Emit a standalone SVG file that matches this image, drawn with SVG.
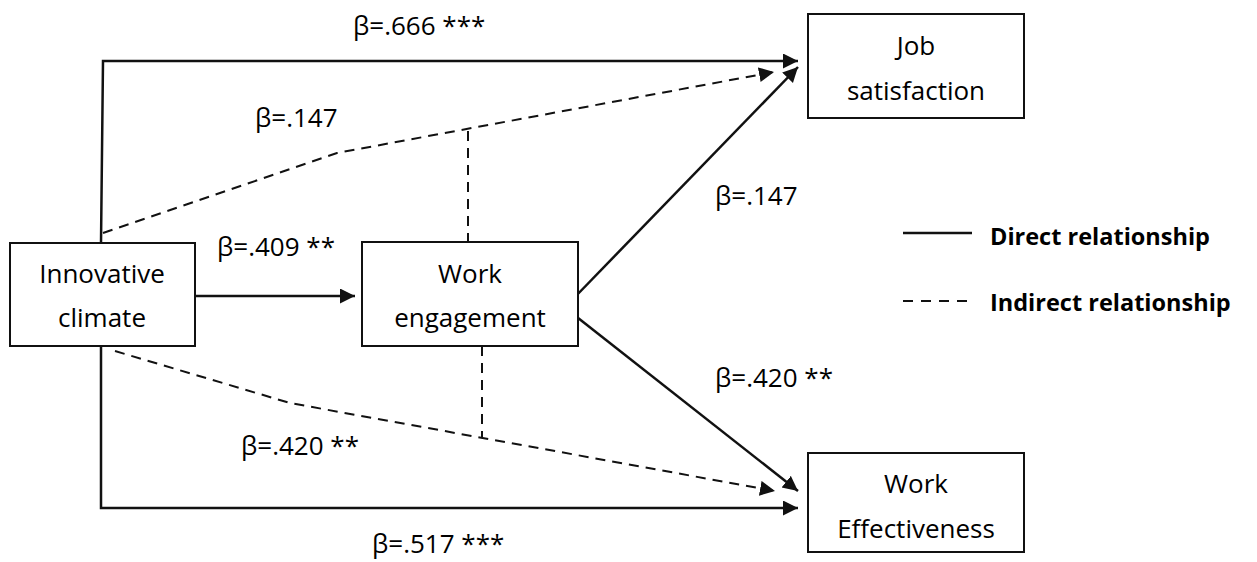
<svg xmlns="http://www.w3.org/2000/svg" width="1257" height="562" viewBox="0 0 1257 562">
<style>
  text { font-family: "Open Sans", "Noto Sans", "Liberation Sans", sans-serif; fill: #000; }
  .node rect { fill: #fff; stroke: #111; stroke-width: 2; }
  .node text { font-size: 26px; text-anchor: middle; }
  .lbl { font-size: 26px; }
  .leg { font-size: 23.5px; font-weight: bold; }
  .solid { fill: none; stroke: #111; stroke-width: 2.5; }
  .dash { fill: none; stroke: #111; stroke-width: 2; stroke-dasharray: 10 7; }
  .legdash { fill: none; stroke: #111; stroke-width: 2; stroke-dasharray: 10 8; }
</style>
<defs>
  <marker id="arr" markerUnits="userSpaceOnUse" markerWidth="16" markerHeight="16" refX="15" refY="7.5" orient="auto">
    <path d="M0,0 L15,7.5 L0,15 z" fill="#111"/>
  </marker>
</defs>

<g id="connectors">
  <path class="solid" d="M101,243 L103,61 L798,61" marker-end="url(#arr)"/>
  <path class="dash" d="M103,233 L337,153 L774,72" marker-end="url(#arr)"/>
  <path class="dash" d="M468,131 L468,242"/>
  <path class="solid" d="M195,296 L355,296" marker-end="url(#arr)"/>
  <path class="solid" d="M573,299 L798,67" marker-end="url(#arr)"/>
  <path class="solid" d="M573,314 L798,491" marker-end="url(#arr)"/>
  <path class="dash" d="M115,351 L290,403 L775,491" marker-end="url(#arr)"/>
  <path class="dash" d="M482,346 L482,438"/>
  <path class="solid" d="M101,346 L101,508 L798,508" marker-end="url(#arr)"/>
</g>

<g id="labels">
  <text class="lbl" x="353" y="35">β=.666 ***</text>
  <text class="lbl" x="255" y="127">β=.147</text>
  <text class="lbl" x="217" y="256">β=.409 **</text>
  <text class="lbl" x="715" y="205">β=.147</text>
  <text class="lbl" x="715" y="387">β=.420 **</text>
  <text class="lbl" x="241" y="455">β=.420 **</text>
  <text class="lbl" x="372" y="553">β=.517 ***</text>
</g>

<g id="innovative-climate" class="node">
  <rect x="10" y="243" width="185" height="103"/>
  <text x="102" y="283">Innovative</text>
  <text x="102" y="327">climate</text>
</g>
<g id="work-engagement" class="node">
  <rect x="362" y="242" width="216" height="104"/>
  <text x="470" y="283">Work</text>
  <text x="470" y="327">engagement</text>
</g>
<g id="job-satisfaction" class="node">
  <rect x="808" y="14" width="216" height="104"/>
  <text x="916" y="55">Job</text>
  <text x="916" y="100">satisfaction</text>
</g>
<g id="work-effectiveness" class="node">
  <rect x="808" y="453" width="216" height="99"/>
  <text x="916" y="493">Work</text>
  <text x="916" y="538">Effectiveness</text>
</g>

<g id="legend">
  <path class="solid" d="M903,233 L972,233"/>
  <text class="leg" x="990" y="245">Direct relationship</text>
  <path class="legdash" d="M903,301 L972,301"/>
  <text class="leg" x="990" y="311">Indirect relationship</text>
</g>
</svg>
